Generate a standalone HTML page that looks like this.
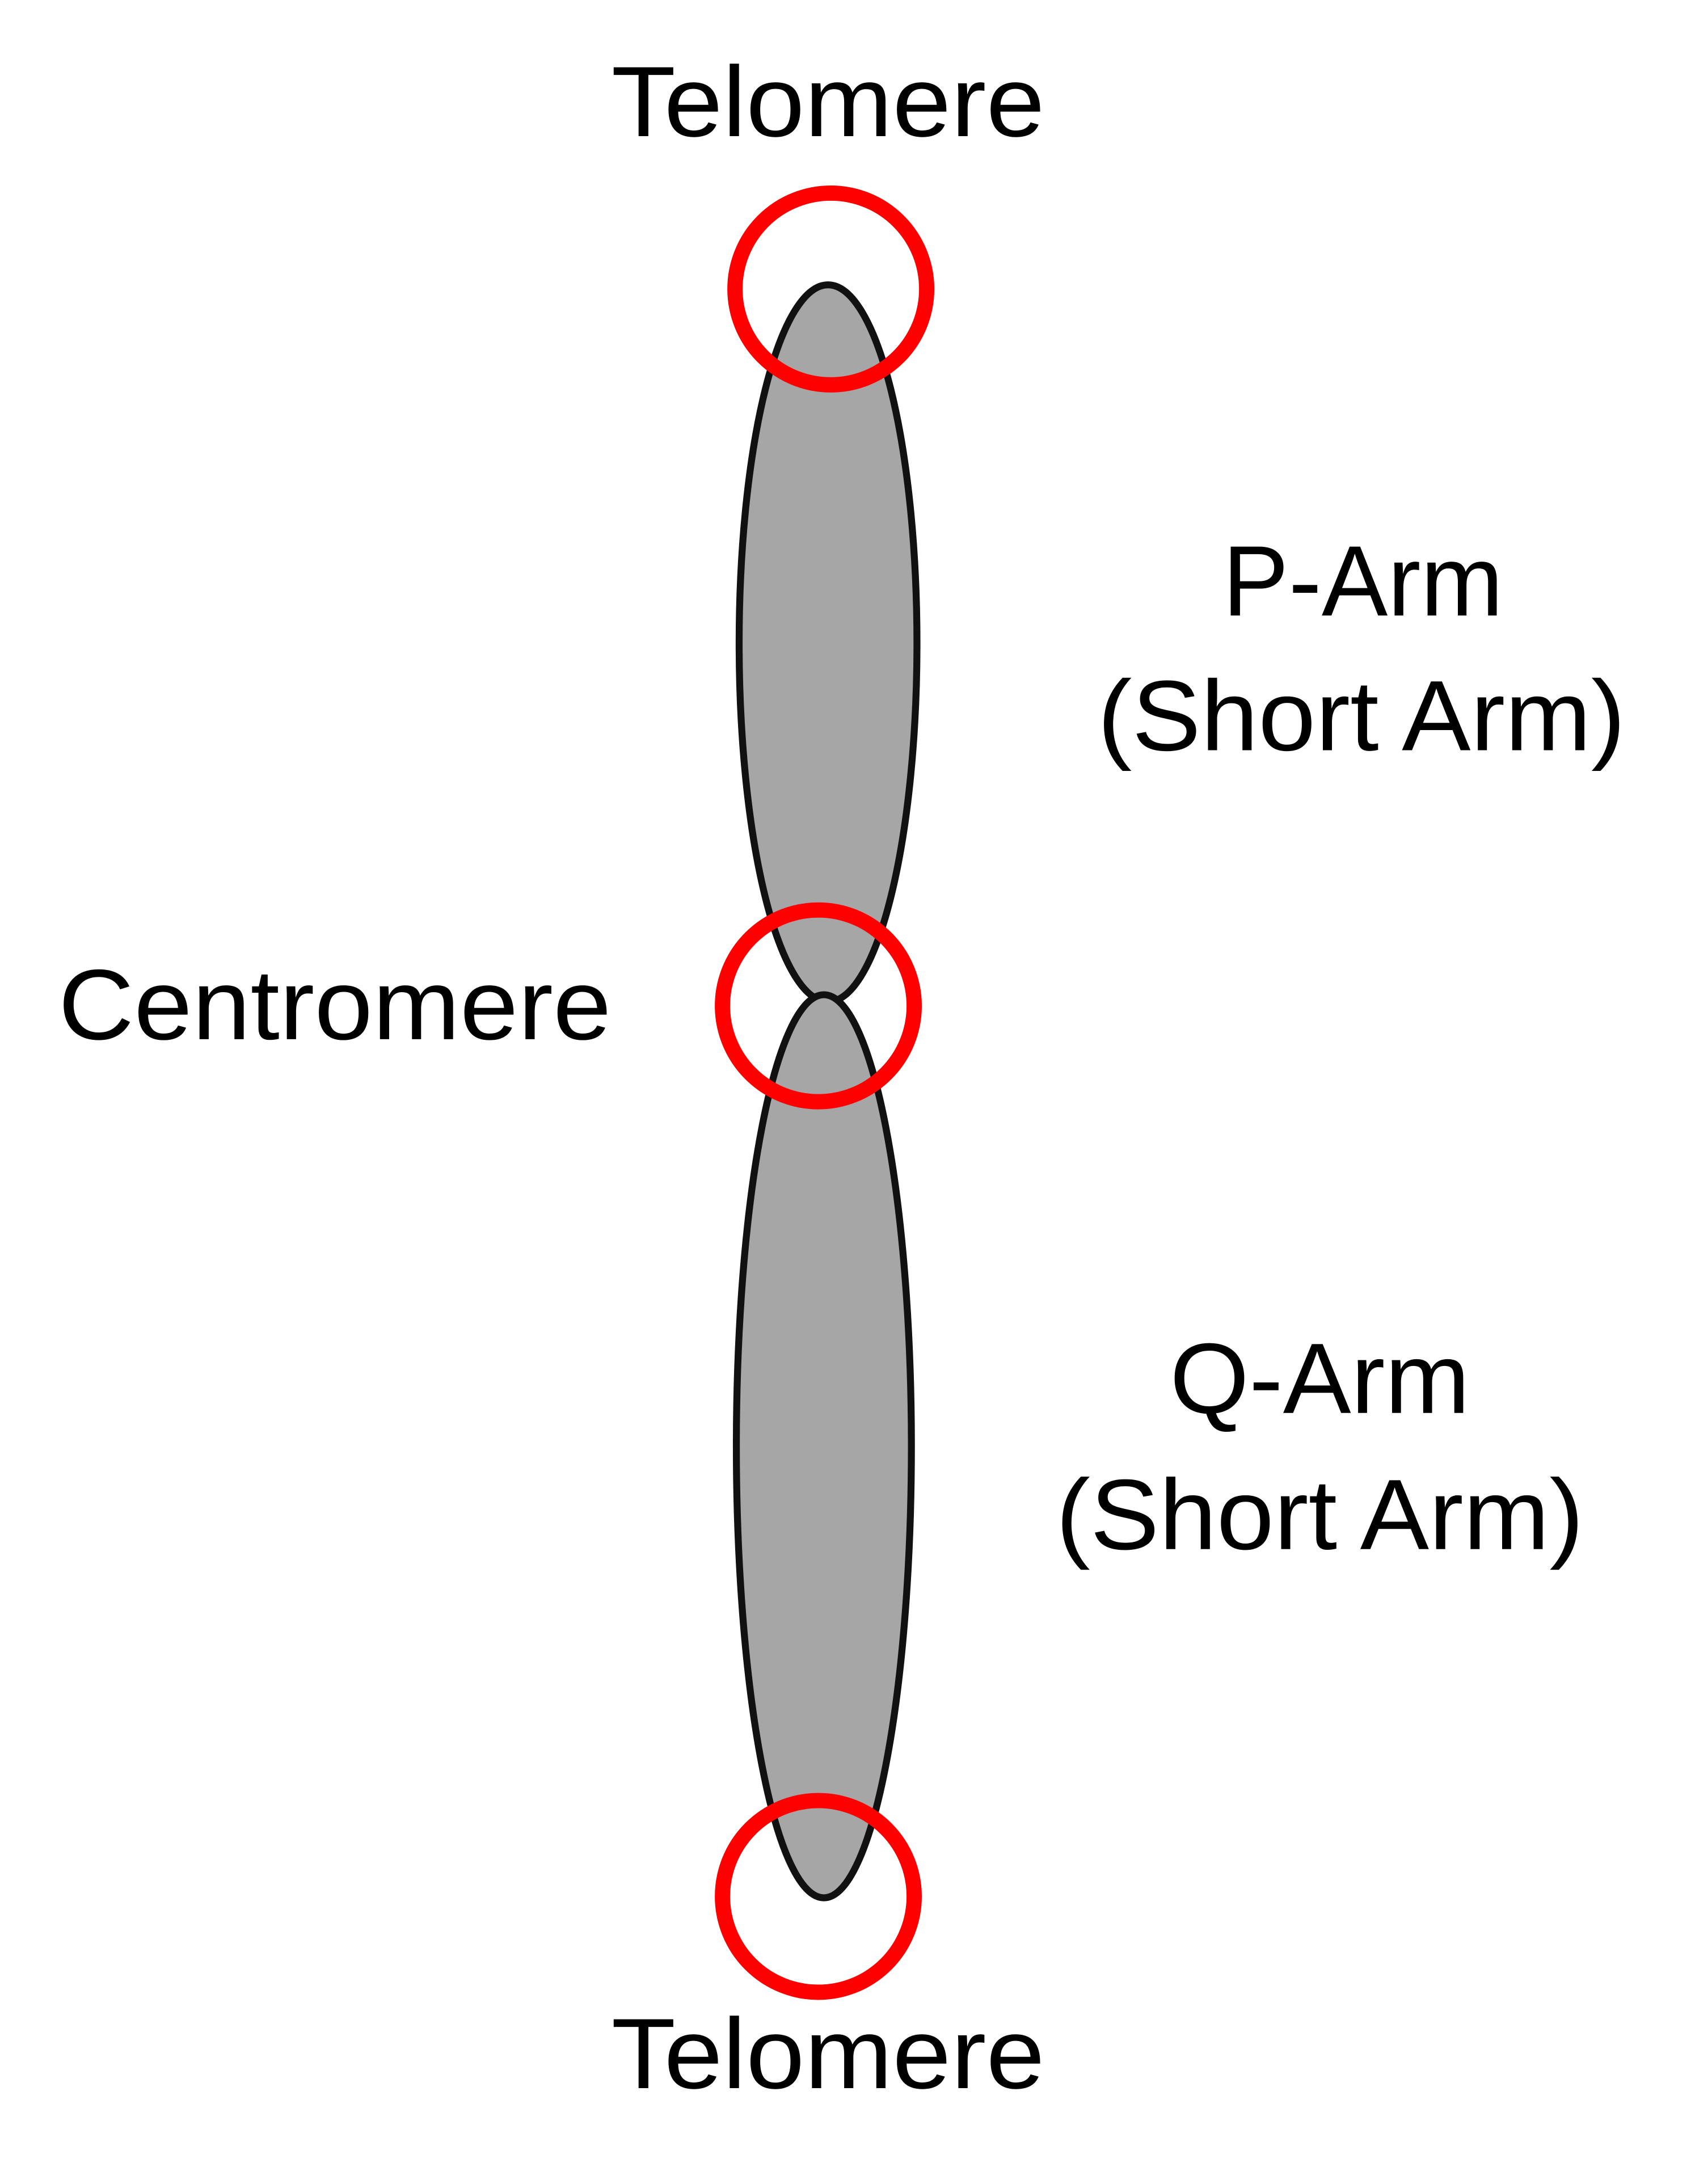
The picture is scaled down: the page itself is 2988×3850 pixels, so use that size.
<!DOCTYPE html>
<html><head><meta charset="utf-8"><style>html,body{margin:0;padding:0;background:#fff}svg{display:block}</style></head>
<body>
<svg width="2988" height="3850" viewBox="0 0 1220 1572" xmlns="http://www.w3.org/2000/svg" font-family="'Liberation Sans', 'DejaVu Sans', sans-serif" fill="#000">
<rect width="1220" height="1572" fill="#fff"/>
<ellipse cx="596" cy="463" rx="64" ry="258" fill="#a6a6a6" stroke="#111" stroke-width="5"/>
<ellipse cx="593" cy="1041" rx="63" ry="325" fill="#a6a6a6" stroke="#111" stroke-width="5"/>
<circle cx="598" cy="208" r="69" fill="none" stroke="#f00" stroke-width="11"/>
<circle cx="589" cy="724" r="69" fill="none" stroke="#f00" stroke-width="11"/>
<circle cx="589" cy="1365" r="69" fill="none" stroke="#f00" stroke-width="11"/>
<text x="440" y="98" font-size="72" textLength="312" lengthAdjust="spacingAndGlyphs">Telomere</text>
<text x="42" y="748" font-size="72" textLength="398" lengthAdjust="spacingAndGlyphs">Centromere</text>
<text x="880" y="443" font-size="72" textLength="202" lengthAdjust="spacingAndGlyphs">P-Arm</text>
<text x="790" y="540" font-size="72" textLength="380" lengthAdjust="spacingAndGlyphs">(Short Arm)</text>
<text x="842" y="1017" font-size="72" textLength="216" lengthAdjust="spacingAndGlyphs">Q-Arm</text>
<text x="760" y="1115" font-size="72" textLength="380" lengthAdjust="spacingAndGlyphs">(Short Arm)</text>
<text x="440" y="1503" font-size="72" textLength="312" lengthAdjust="spacingAndGlyphs">Telomere</text>
</svg>
</body></html>
